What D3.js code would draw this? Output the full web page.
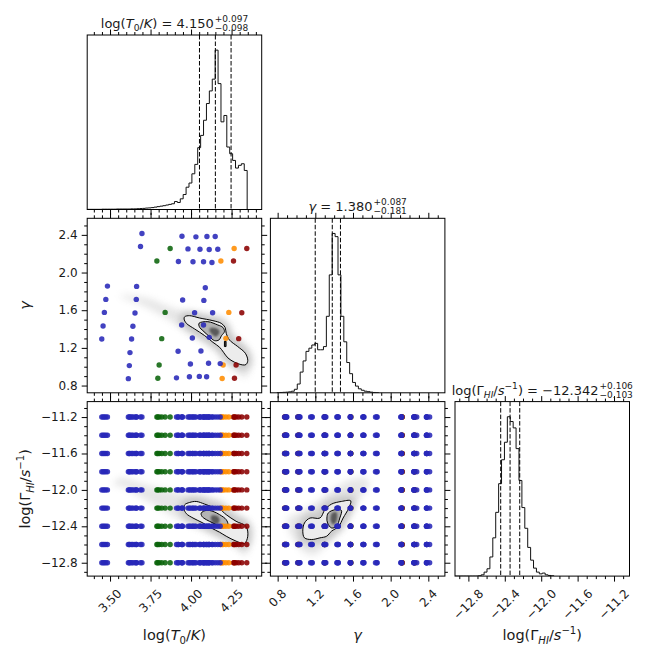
<!DOCTYPE html>
<html>
<head>
<meta charset="utf-8">
<script src="https://cdn.jsdelivr.net/npm/d3@7"></script>
<style>
  html, body { margin: 0; padding: 0; background: #fff; }
  svg { display: block; font-family: "DejaVu Sans", sans-serif; }
</style>
</head>
<body>
<svg id="chart" width="664" height="664"></svg>
<script>
// axis ranges and ticks
const t0Range = [3.359, 4.436];
const gammaRange = [0.723, 2.576];
const lgRange = [-12.947, -11.03];
const t0Ticks = [3.5, 3.75, 4.0, 4.25];
const gammaTicks = [0.8, 1.2, 1.6, 2.0, 2.4];
const lgTicks = [-12.8, -12.4, -12.0, -11.6, -11.2];
const t0MinorStep = 0.05;
const gammaMinorStep = 0.1;
const lgMinorStep = 0.1;

// summary values shown in the titles
const t0Median = 4.150, t0Plus = 0.097, t0Minus = 0.098;
const gammaMedian = 1.380, gammaPlus = 0.087, gammaMinus = 0.181;
const lgMedian = -12.342, lgPlus = 0.106, lgMinus = 0.103;

// 1D histograms (normalised to peak)
const t0HistStart = 3.359, t0HistWidth = 0.01795;
const t0Hist = [
  0.001, 0.001, 0.001, 0.001, 0.001, 0.002, 0.002, 0.002, 0.002, 0.002,
  0.003, 0.003, 0.003, 0.003, 0.003, 0.004, 0.004, 0.005, 0.006, 0.007,
  0.009, 0.010, 0.012, 0.015, 0.018, 0.021, 0.024, 0.028, 0.032, 0.036,
  0.050, 0.044, 0.067, 0.094, 0.140, 0.166, 0.224, 0.283, 0.388, 0.465,
  0.560, 0.665, 0.744, 0.818, 1.000, 0.790, 0.550, 0.590, 0.392, 0.350,
  0.308, 0.260, 0.277, 0.287, 0.245, 0, 0, 0, 0, 0
];
const gammaHistStart = 0.792, gammaHistWidth = 0.0309;
const gammaHist = [
  0.001, 0.002, 0.003, 0.004, 0.006, 0.010, 0.022, 0.055, 0.130, 0.200,
  0.260, 0.280, 0.300, 0.310, 0.270, 0.270, 0.290, 0.480, 0.740, 1.000,
  0.980, 0.740, 0.480, 0.320, 0.190, 0.120, 0.065, 0.042, 0.025, 0.016,
  0.010, 0.007, 0.004, 0.002, 0.001
];
const lgHistStart = -12.947, lgHistWidth = 0.03195;
const lgHist = [
  0, 0, 0, 0, 0, 0, 0, 0, 0.002, 0.008,
  0.025, 0.046, 0.120, 0.240, 0.400, 0.580, 0.730, 0.840, 1.000, 0.970,
  0.930, 0.800, 0.600, 0.430, 0.300, 0.180, 0.100, 0.050, 0.025, 0.014,
  0.019, 0.008, 0.004, 0.002
];

// simulation grid points
const simT0 = [
  3.697, 3.944, 4.030, 4.098, 4.149, 3.688, 3.871, 3.981, 4.055, 4.112,
  4.165, 4.266, 4.344, 3.789, 3.922, 4.012, 4.077, 4.129, 4.184, 4.262,
  3.484, 3.664, 4.088, 3.474, 3.662, 3.948, 4.079, 3.465, 3.654, 3.840,
  4.022, 4.133, 4.233, 4.313, 3.457, 3.641, 3.942, 4.077, 3.449, 3.633,
  3.819, 4.008, 4.112, 4.215, 4.294, 3.623, 3.920, 4.061, 3.619, 3.803,
  3.996, 4.108, 4.180, 4.198, 4.278, 3.613, 3.795, 3.910, 3.990, 4.051,
  4.096, 4.192, 4.268
];
const simGamma = [
  2.414, 2.386, 2.379, 2.382, 2.382, 2.277, 2.255, 2.251, 2.248, 2.245,
  2.248, 2.255, 2.255, 2.122, 2.118, 2.114, 2.114, 2.107, 2.122, 2.122,
  1.856, 1.853, 1.839, 1.715, 1.715, 1.708, 1.704, 1.577, 1.570, 1.577,
  1.573, 1.573, 1.577, 1.573, 1.433, 1.429, 1.443, 1.443, 1.294, 1.294,
  1.298, 1.305, 1.312, 1.301, 1.298, 1.150, 1.164, 1.167, 1.012, 1.019,
  1.029, 1.037, 1.033, 1.019, 1.019, 0.873, 0.878, 0.882, 0.893, 0.897,
  0.893, 0.875, 0.878
];
const simGroup = [
  "b", "b", "b", "b", "b", "b", "g", "b", "b", "b",
  "b", "o", "r", "g", "b", "b", "b", "b", "o", "r",
  "b", "b", "b", "b", "b", "b", "b", "b", "b", "g",
  "b", "b", "o", "r", "b", "b", "b", "b", "b", "b",
  "g", "b", "b", "o", "r", "b", "b", "b", "b", "g",
  "b", "b", "b", "o", "r", "b", "g", "b", "b", "b",
  "b", "o", "r"
];
const logGammaGrid = [-11.2, -11.4, -11.6, -11.8, -12.0, -12.2, -12.4, -12.6, -12.8];
const groupColors = { b: "#2828b8", g: "#0b640b", o: "#ff8c00", r: "#8b0000" };

// 2D posterior outlines (data coordinates)
const t0GammaCloud = [[3.561,1.754],[3.725,1.729],[3.848,1.648],[3.971,1.577],[4.094,1.542],[4.196,1.489],[4.258,1.348],[4.339,1.207],[4.360,1.065],[4.350,0.906],[4.319,0.889],[4.278,0.959],[4.217,1.065],[4.176,1.171],[4.094,1.259],[3.991,1.348],[3.889,1.471],[3.787,1.577],[3.684,1.666],[3.582,1.729]];
const t0GammaOuter = [[3.957,1.507],[3.961,1.531],[3.991,1.542],[4.053,1.517],[4.135,1.489],[4.186,1.461],[4.210,1.418],[4.217,1.355],[4.237,1.284],[4.288,1.214],[4.335,1.143],[4.350,1.065],[4.339,1.023],[4.319,1.019],[4.268,1.048],[4.227,1.094],[4.200,1.154],[4.176,1.207],[4.135,1.259],[4.084,1.330],[4.022,1.401],[3.971,1.461]];
const t0GammaInner = [[4.049,1.461],[4.104,1.478],[4.165,1.443],[4.196,1.418],[4.206,1.373],[4.188,1.330],[4.172,1.284],[4.145,1.277],[4.114,1.319],[4.073,1.383],[4.053,1.418]];
const t0GammaCore = [[4.118,1.411],[4.165,1.401],[4.176,1.365],[4.155,1.319],[4.131,1.341],[4.114,1.383]];
const t0GammaIsland = [[4.206,1.270],[4.216,1.270],[4.216,1.214],[4.206,1.214]];

const t0LgCloud = [[3.520,-11.945],[3.561,-11.872],[3.725,-11.945],[3.848,-12.000],[3.950,-12.036],[4.094,-12.072],[4.196,-12.127],[4.278,-12.254],[4.350,-12.345],[4.360,-12.509],[4.350,-12.690],[4.319,-12.709],[4.278,-12.618],[4.196,-12.527],[4.094,-12.454],[3.991,-12.381],[3.889,-12.290],[3.787,-12.181],[3.684,-12.072],[3.582,-11.963]];
const t0LgOuter = [[3.957,-12.211],[3.961,-12.163],[3.991,-12.138],[4.032,-12.127],[4.084,-12.156],[4.135,-12.189],[4.176,-12.211],[4.217,-12.272],[4.278,-12.345],[4.339,-12.400],[4.350,-12.509],[4.329,-12.589],[4.278,-12.563],[4.217,-12.509],[4.176,-12.465],[4.124,-12.418],[4.073,-12.363],[4.012,-12.309],[3.971,-12.261]];
const t0LgInner = [[4.063,-12.254],[4.094,-12.225],[4.135,-12.236],[4.176,-12.272],[4.217,-12.327],[4.227,-12.381],[4.206,-12.407],[4.176,-12.400],[4.135,-12.363],[4.094,-12.327],[4.067,-12.290]];
const t0LgCore = [[4.124,-12.283],[4.165,-12.290],[4.176,-12.345],[4.155,-12.381],[4.131,-12.356]];

const gammaLgCloud = [[0.916,-12.309],[1.056,-12.236],[1.197,-12.145],[1.320,-12.054],[1.443,-11.963],[1.583,-11.883],[1.741,-11.872],[1.776,-11.945],[1.688,-12.072],[1.600,-12.200],[1.530,-12.345],[1.425,-12.490],[1.302,-12.618],[1.197,-12.709],[1.091,-12.690],[0.986,-12.563],[0.916,-12.436]];
const gammaLgOuter = [[1.085,-12.363],[1.144,-12.309],[1.249,-12.309],[1.302,-12.218],[1.372,-12.156],[1.477,-12.127],[1.576,-12.120],[1.555,-12.200],[1.495,-12.309],[1.449,-12.400],[1.372,-12.454],[1.320,-12.509],[1.249,-12.527],[1.162,-12.545],[1.085,-12.527],[1.067,-12.454]];
const gammaLgInner = [[1.337,-12.254],[1.407,-12.218],[1.477,-12.225],[1.460,-12.309],[1.425,-12.400],[1.372,-12.418],[1.330,-12.363],[1.323,-12.309]];
const gammaLgCore = [[1.372,-12.261],[1.425,-12.247],[1.425,-12.345],[1.390,-12.381],[1.365,-12.345]];

// labels
const t0Label = [{ t: "log(" }, { t: "T", it: 1 }, { t: "0", sub: 1 }, { t: "/" }, { t: "K", it: 1 }, { t: ")" }];
const gammaLabel = [{ t: "\u03b3", it: 1 }];
const lgLabel = [{ t: "log(\u0393" }, { t: "HI", it: 1, sub: 1 }, { t: "/" }, { t: "s", it: 1 }, { t: "\u22121", sup: 1 }, { t: ")" }];

// ---------------------------------------------------------------
const svg = d3.select("#chart");
const defs = svg.append("defs");
defs.append("filter").attr("id", "blurWide").attr("x", "-30%").attr("y", "-30%").attr("width", "160%").attr("height", "160%")
  .append("feGaussianBlur").attr("stdDeviation", 3.5);
defs.append("filter").attr("id", "blurSoft").attr("x", "-30%").attr("y", "-30%").attr("width", "160%").attr("height", "160%")
  .append("feGaussianBlur").attr("stdDeviation", 1.3);

const S = 174.5;
const colX = [87.2, 270.4, 455];
const rowY = [35, 218.3, 401.6];

const xT0 = d3.scaleLinear().domain(t0Range).range([colX[0], colX[0] + S]);
const xGamma = d3.scaleLinear().domain(gammaRange).range([colX[1], colX[1] + S]);
const xLg = d3.scaleLinear().domain(lgRange).range([colX[2], colX[2] + S]);
const yGamma = d3.scaleLinear().domain(gammaRange).range([rowY[1] + S, rowY[1]]);
const yLg = d3.scaleLinear().domain(lgRange).range([rowY[2] + S, rowY[2]]);
const histY = (r) => d3.scaleLinear().domain([0, 1.095]).range([rowY[r] + S, rowY[r]]);

const fmt2 = d3.format(".2f");
const fmt1 = d3.format(".1f");
const fmt3 = d3.format(".3f");

function minorValues(range, step, majors) {
  return d3.range(Math.ceil(range[0] / step - 1e-9), Math.floor(range[1] / step + 1e-9) + 1)
    .map((k) => +(k * step).toFixed(4))
    .filter((v) => !majors.some((m) => Math.abs(m - v) < 1e-6));
}

function tickLines(scale, orient, offset, majors, minors) {
  const make = { bottom: d3.axisBottom, top: d3.axisTop, left: d3.axisLeft, right: d3.axisRight }[orient];
  const tr = orient === "bottom" || orient === "top" ? `translate(0,${offset})` : `translate(${offset},0)`;
  [[minors, 3], [majors, 5.5]].forEach(([vals, size]) => {
    svg.append("g").attr("transform", tr)
      .call(make(scale).tickValues(vals).tickSize(size).tickSizeOuter(0).tickFormat(() => ""))
      .call((a) => a.select(".domain").remove())
      .selectAll("line").attr("stroke", "#000").attr("stroke-width", 1);
  });
}

function richText(sel, parts, size) {
  let off = 0;
  parts.forEach((p) => {
    const target = p.sub ? size * 0.25 : p.sup ? -size * 0.42 : 0;
    sel.append("tspan")
      .attr("dy", target - off)
      .attr("font-size", p.sub || p.sup ? size * 0.7 : size)
      .attr("font-style", p.it ? "italic" : "normal")
      .text(p.t);
    off = target;
  });
  return sel;
}

function bottomLabels(scale, ticks, format) {
  const bottom = rowY[2] + S;
  ticks.forEach((v) => {
    const t = svg.append("text").attr("font-size", 12).attr("fill", "#1a1a1a")
      .attr("text-anchor", "middle").attr("dominant-baseline", "central").text(format(v));
    const len = t.node().getComputedTextLength();
    const cy = bottom + 12.3 + (len + 8.8) * 0.3536;
    t.attr("transform", `translate(${scale(v)},${cy}) rotate(-45)`);
  });
}

function leftLabels(scale, ticks, format) {
  ticks.forEach((v) => {
    svg.append("text").attr("font-size", 12).attr("fill", "#1a1a1a")
      .attr("x", colX[0] - 9.5).attr("y", scale(v))
      .attr("text-anchor", "end").attr("dominant-baseline", "central").text(format(v));
  });
}

function drawTitle(cx, baseline, parts, sup, sub) {
  const g = svg.append("g").attr("fill", "#1a1a1a");
  const main = richText(g.append("text").attr("y", baseline).attr("font-size", 13), parts, 13);
  const w = main.node().getComputedTextLength();
  const supT = g.append("text").attr("y", baseline - 6).attr("font-size", 9).text(sup);
  const subT = g.append("text").attr("y", baseline + 3).attr("font-size", 9).text(sub);
  const ws = Math.max(supT.node().getComputedTextLength(), subT.node().getComputedTextLength());
  const x0 = cx - (w + 1 + ws) / 2;
  main.attr("x", x0);
  supT.attr("x", x0 + w + 1);
  subT.attr("x", x0 + w + 1);
}

function clipFor(id, c, r) {
  defs.append("clipPath").attr("id", id).append("rect")
    .attr("x", colX[c]).attr("y", rowY[r]).attr("width", S).attr("height", S);
  return svg.append("g").attr("clip-path", `url(#${id})`);
}

function drawHist(c, r, x, start, width, values, median, plus, minus, id) {
  const y = histY(r);
  const g = clipFor(id, c, r);
  const pts = [[start, 0]];
  values.forEach((v, i) => {
    pts.push([start + i * width, v], [start + (i + 1) * width, v]);
  });
  pts.push([start + values.length * width, 0]);
  g.append("path").datum(pts)
    .attr("fill", "none").attr("stroke", "#111").attr("stroke-width", 1)
    .attr("d", d3.line().x((d) => x(d[0])).y((d) => y(d[1])));
  [median - minus, median, median + plus].forEach((q) => {
    g.append("line").attr("x1", x(q)).attr("x2", x(q)).attr("y1", rowY[r]).attr("y2", rowY[r] + S)
      .attr("stroke", "#000").attr("stroke-width", 1).attr("stroke-dasharray", "4.5,2");
  });
}

function drawDensity(c, r, x, y, cloud, outer, inner, core, id) {
  const g = clipFor(id, c, r);
  const shape = d3.line().x((d) => x(d[0])).y((d) => y(d[1])).curve(d3.curveCatmullRomClosed.alpha(0.5));
  g.append("path").datum(cloud).attr("d", shape).attr("fill", "#c8c8c8").attr("opacity", 0.45).attr("filter", "url(#blurWide)");
  g.append("path").datum(outer).attr("d", shape).attr("fill", "none").attr("stroke", "#a8a8a8")
    .attr("stroke-width", 9).attr("opacity", 0.55).attr("filter", "url(#blurWide)");
  g.append("path").datum(outer).attr("d", shape).attr("fill", "#ececec");
  g.append("path").datum(inner).attr("d", shape).attr("fill", "#b4b4b4");
  g.append("path").datum(core).attr("d", shape).attr("fill", "#5a5a5a").attr("filter", "url(#blurSoft)");
  g.append("path").datum(outer).attr("d", shape).attr("fill", "none").attr("stroke", "#000").attr("stroke-width", 1);
  g.append("path").datum(inner).attr("d", shape).attr("fill", "none").attr("stroke", "#000").attr("stroke-width", 1);
  return { g, shape };
}

const sims = simT0.map((t, i) => ({ t0: t, gamma: simGamma[i], group: simGroup[i] }));
const simOrder = sims.filter((d) => d.group !== "b").concat(sims.filter((d) => d.group === "b"));

function drawPoints(g, data, fx, fy) {
  g.append("g").selectAll("circle").data(data).enter().append("circle")
    .attr("cx", fx).attr("cy", fy).attr("r", 2.7)
    .attr("fill", (d) => groupColors[d.group]).attr("fill-opacity", 0.88);
}

// histograms
drawHist(0, 0, xT0, t0HistStart, t0HistWidth, t0Hist, t0Median, t0Plus, t0Minus, "c00");
drawHist(1, 1, xGamma, gammaHistStart, gammaHistWidth, gammaHist, gammaMedian, gammaPlus, gammaMinus, "c11");
drawHist(2, 2, xLg, lgHistStart, lgHistWidth, lgHist, lgMedian, lgPlus, lgMinus, "c22");

// 2D panels
const p10 = drawDensity(0, 1, xT0, yGamma, t0GammaCloud, t0GammaOuter, t0GammaInner, t0GammaCore, "c10");
p10.g.append("path").datum(t0GammaIsland).attr("d", d3.line().x((d) => xT0(d[0])).y((d) => yGamma(d[1])).curve(d3.curveLinearClosed))
  .attr("fill", "#444").attr("stroke", "#000").attr("stroke-width", 1);
drawPoints(p10.g, simOrder, (d) => xT0(d.t0), (d) => yGamma(d.gamma));

const gridRows = (key) => logGammaGrid.flatMap((lg) => simOrder.map((d) => ({ v: d[key], lg, group: d.group })));
const p20 = drawDensity(0, 2, xT0, yLg, t0LgCloud, t0LgOuter, t0LgInner, t0LgCore, "c20");
drawPoints(p20.g, gridRows("t0"), (d) => xT0(d.v), (d) => yLg(d.lg));
const p21 = drawDensity(1, 2, xGamma, yLg, gammaLgCloud, gammaLgOuter, gammaLgInner, gammaLgCore, "c21");
drawPoints(p21.g, gridRows("gamma"), (d) => xGamma(d.v), (d) => yLg(d.lg));

// ticks
const t0Minor = minorValues(t0Range, t0MinorStep, t0Ticks);
const gammaMinor = minorValues(gammaRange, gammaMinorStep, gammaTicks);
const lgMinor = minorValues(lgRange, lgMinorStep, lgTicks);

[
  { c: 0, r: 0, x: xT0, xt: t0Ticks, xm: t0Minor },
  { c: 1, r: 1, x: xGamma, xt: gammaTicks, xm: gammaMinor },
  { c: 2, r: 2, x: xLg, xt: lgTicks, xm: lgMinor },
  { c: 0, r: 1, x: xT0, xt: t0Ticks, xm: t0Minor, y: yGamma, yt: gammaTicks, ym: gammaMinor },
  { c: 0, r: 2, x: xT0, xt: t0Ticks, xm: t0Minor, y: yLg, yt: lgTicks, ym: lgMinor },
  { c: 1, r: 2, x: xGamma, xt: gammaTicks, xm: gammaMinor, y: yLg, yt: lgTicks, ym: lgMinor },
].forEach((p) => {
  tickLines(p.x, "bottom", rowY[p.r] + S, p.xt, p.xm);
  tickLines(p.x, "top", rowY[p.r], p.xt, p.xm);
  if (p.y) {
    tickLines(p.y, "left", colX[p.c], p.yt, p.ym);
    tickLines(p.y, "right", colX[p.c] + S, p.yt, p.ym);
  }
  svg.append("rect").attr("x", colX[p.c]).attr("y", rowY[p.r]).attr("width", S).attr("height", S)
    .attr("fill", "none").attr("stroke", "#000").attr("stroke-width", 1);
});

// tick labels
bottomLabels(xT0, t0Ticks, fmt2);
bottomLabels(xGamma, gammaTicks, fmt1);
bottomLabels(xLg, lgTicks, fmt1);
leftLabels(yGamma, gammaTicks, fmt1);
leftLabels(yLg, lgTicks, fmt1);

// axis labels
[[t0Label, 0], [gammaLabel, 1], [lgLabel, 2]].forEach(([parts, c]) => {
  richText(svg.append("text").attr("x", colX[c] + S / 2).attr("y", 640).attr("text-anchor", "middle")
    .attr("font-size", 14.5).attr("fill", "#1a1a1a"), parts, 14.5);
});
[[gammaLabel, 1], [lgLabel, 2]].forEach(([parts, r]) => {
  richText(svg.append("text").attr("transform", `translate(30,${rowY[r] + S / 2}) rotate(-90)`)
    .attr("text-anchor", "middle").attr("font-size", 14.5).attr("fill", "#1a1a1a"), parts, 14.5);
});

// titles
drawTitle(colX[0] + S / 2, rowY[0] - 7, t0Label.concat([{ t: " = " + fmt3(t0Median) }]), "+" + fmt3(t0Plus), "\u2212" + fmt3(t0Minus));
drawTitle(colX[1] + S / 2, rowY[1] - 7, gammaLabel.concat([{ t: " = " + fmt3(gammaMedian) }]), "+" + fmt3(gammaPlus), "\u2212" + fmt3(gammaMinus));
drawTitle(colX[2] + S / 2, rowY[2] - 7, lgLabel.concat([{ t: " = " + fmt3(lgMedian) }]), "+" + fmt3(lgPlus), "\u2212" + fmt3(lgMinus));
</script>
</body>
</html>
